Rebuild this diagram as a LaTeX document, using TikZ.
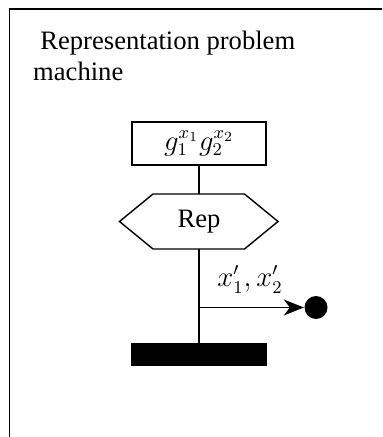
\documentclass[tikz,border=0pt]{standalone}
\usepackage{fontspec}
\setmainfont{Liberation Serif}
\usetikzlibrary{arrows.meta,shapes.geometric}
\begin{document}
\begin{tikzpicture}[x=0.5pt,y=-0.5pt,
  line width=0.7pt,
  every node/.style={font=\fontsize{13.3}{16}\selectfont},
  titletext/.style={anchor=base west, inner sep=0pt},
  gbox/.style={draw, minimum width=67pt, minimum height=21.5pt, inner sep=0pt},
  arr/.style={-{Stealth[length=10pt,width=8pt,inset=3pt]}}
]
\useasboundingbox (0,0) rectangle (382,437);
\clip (0,0) rectangle (382,437);
\draw (9.5,9) rectangle (400,460);
\node[titletext] (t1) at (32.5,50) {\hspace*{0.27em}Representation problem};
\node[titletext] (t2) at (32.5,81) {machine};
\node[gbox] (g) at (199,143.5) {$g_1^{x_1}g_2^{x_2}$};
\draw (119.5,221.5) -- (153,194) -- (244.5,194) -- (278,221.5) -- (244.5,249) -- (153,249) -- cycle;
\node[inner sep=0pt] (rep) at (199,221.5) {Rep};
\coordinate (hextop) at (199,194);
\coordinate (hexbot) at (199,249);
\node[draw, fill=black, minimum width=67pt, minimum height=10.5pt, inner sep=0pt] (bar) at (199,354.5) {};
\node[circle, fill=black, minimum size=11.5pt, inner sep=0pt] (dot) at (316,307.5) {};
\coordinate (branch) at (199,307.5);
\draw (g.south) -- (hextop);
\draw (hexbot) -- (bar.north);
\draw[arr] (branch) -- (dot.west);
\node[anchor=base, inner sep=0pt] (lab) at (250,286) {$x_1', x_2'$};
\end{tikzpicture}
\end{document}
